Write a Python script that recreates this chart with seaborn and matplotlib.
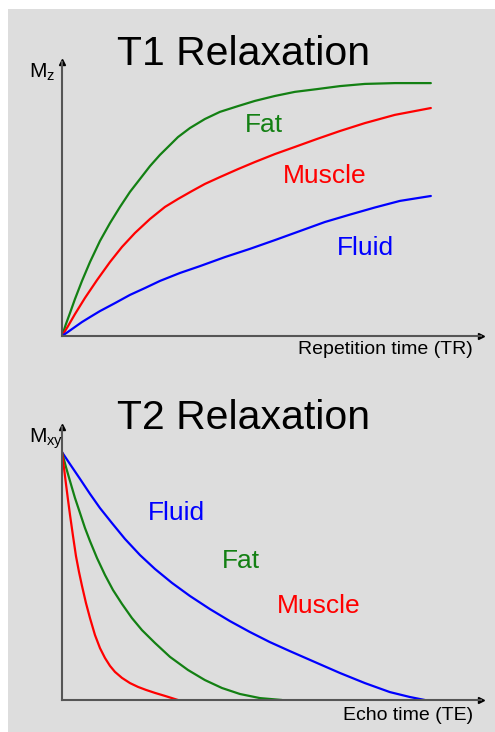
import numpy as np
import pandas as pd
import matplotlib.pyplot as plt
import seaborn as sns
from matplotlib.patches import Rectangle

# ── T1 recovery curves (TR in arbitrary units, Mz normalised) ─────────
t1_fat_tr = [0, 1.08, 2.17, 3.52, 5.42, 7.59, 10.30, 13.01, 15.72, 18.43, 21.14, 23.85, 26.56,
             29.27, 31.44, 34.69, 38.75, 42.82, 47.70, 52.30, 57.72, 63.14, 69.11, 75.34,
             82.11, 90.24, 100]
t1_fat_mz = [0, 0.044, 0.084, 0.135, 0.201, 0.270, 0.347, 0.412, 0.471, 0.526, 0.573, 0.620,
             0.661, 0.697, 0.726, 0.759, 0.792, 0.818, 0.839, 0.858, 0.876, 0.891, 0.901,
             0.912, 0.920, 0.923, 0.923]

t1_muscle_tr = [0, 1.63, 3.52, 6.23, 9.49, 13.01, 16.26, 19.78, 23.85, 27.91, 31.44, 35.23,
                38.75, 42.82, 47.70, 52.30, 57.72, 63.14, 69.11, 75.34, 82.11, 90.24, 100]
t1_muscle_mz = [0, 0.036, 0.080, 0.139, 0.204, 0.270, 0.325, 0.376, 0.427, 0.471, 0.500, 0.529,
                0.555, 0.580, 0.609, 0.635, 0.664, 0.690, 0.719, 0.748, 0.777, 0.807, 0.832]

t1_fluid_tr = [0, 1.63, 3.52, 5.42, 7.59, 10.30, 14.36, 18.43, 22.49, 26.56, 31.98, 37.40,
               44.17, 50.95, 57.72, 64.50, 71.27, 78.05, 84.82, 91.60, 100]
t1_fluid_mz = [0, 0.015, 0.033, 0.051, 0.069, 0.091, 0.120, 0.150, 0.175, 0.201, 0.230, 0.255,
               0.288, 0.318, 0.350, 0.383, 0.416, 0.443, 0.469, 0.493, 0.511]

# ── T2 decay curves (TE in arbitrary units, Mxy normalised) ───────────
t2_fluid_te = [0, 2.17, 4.88, 7.59, 10.30, 13.55, 17.07, 21.14, 25.20, 29.81, 34.69, 40.11,
               45.53, 50.95, 56.37, 61.79, 68.56, 75.34, 82.11, 88.89, 94.31, 98.37]
t2_fluid_mxy = [0.908, 0.864, 0.810, 0.755, 0.703, 0.648, 0.590, 0.531, 0.480, 0.429, 0.381,
                0.333, 0.289, 0.249, 0.212, 0.179, 0.139, 0.099, 0.062, 0.029, 0.011, 0]

t2_fat_te = [0, 1.08, 2.17, 3.52, 4.88, 6.23, 7.59, 9.49, 11.65, 13.82, 16.26, 18.97, 21.68,
             25.20, 29.27, 34.15, 38.75, 43.36, 48.24, 53.66, 59.62]
t2_fat_mxy = [0.908, 0.853, 0.802, 0.740, 0.685, 0.630, 0.582, 0.520, 0.458, 0.403, 0.352,
              0.300, 0.256, 0.209, 0.158, 0.110, 0.073, 0.044, 0.022, 0.007, 0]

t2_muscle_te = [0, 0.54, 1.08, 1.63, 2.17, 2.98, 3.79, 4.61, 5.42, 6.50, 7.59, 8.94, 10.30,
                11.65, 13.01, 14.36, 16.26, 18.43, 20.60, 22.76, 25.20, 27.91, 31.44]
t2_muscle_mxy = [0.908, 0.850, 0.791, 0.733, 0.678, 0.601, 0.527, 0.469, 0.418, 0.355, 0.300,
                 0.238, 0.190, 0.154, 0.125, 0.103, 0.081, 0.062, 0.048, 0.037, 0.026, 0.015, 0]

# label positions (time, magnitude) next to each curve
t1_labels = {"Fat": (54.7, 0.745), "Muscle": (71.1, 0.558), "Fluid": (82.4, 0.296)}
t2_labels = {"Fluid": (30.9, 0.659), "Fat": (48.4, 0.484), "Muscle": (69.5, 0.319)}

colors = {"Fat": "#138013", "Muscle": "#ff0000", "Fluid": "#0000ff"}

sns.set_style("white")
plt.rcParams['font.family'] = ['Liberation Sans', 'DejaVu Sans']
plt.rcParams['text.color'] = 'black'
plt.rcParams['mathtext.fontset'] = 'custom'
plt.rcParams['mathtext.rm'] = 'Liberation Sans'
plt.rcParams['mathtext.it'] = 'Liberation Sans'

fig = plt.figure(figsize=(4.95, 7.32), dpi=100, facecolor="white")
fig.patches.append(Rectangle((8 / 495, 0), 1, 723 / 732, transform=fig.transFigure,
                             facecolor="#dddddd", edgecolor="none", zorder=-10))

ax1 = fig.add_axes([62 / 495, 396 / 732, 419 / 495, 274 / 732])
ax2 = fig.add_axes([62 / 495, 32 / 732, 419 / 495, 273 / 732])

t1_curves = {
    "Fat": (t1_fat_tr, t1_fat_mz),
    "Muscle": (t1_muscle_tr, t1_muscle_mz),
    "Fluid": (t1_fluid_tr, t1_fluid_mz),
}
t2_curves = {
    "Fluid": (t2_fluid_te, t2_fluid_mxy),
    "Fat": (t2_fat_te, t2_fat_mxy),
    "Muscle": (t2_muscle_te, t2_muscle_mxy),
}

for ax, curves, labels in [(ax1, t1_curves, t1_labels), (ax2, t2_curves, t2_labels)]:
    for name, (x, y) in curves.items():
        df = pd.DataFrame({"t": x, "m": y})
        sns.lineplot(data=df, x="t", y="m", ax=ax, color=colors[name], lw=1.6,
                     sort=False, estimator=None)
        lx, ly = labels[name]
        ax.text(lx, ly, name, color=colors[name], fontsize=19, ha="center", va="baseline")
    ax.set_xlim(0, 113.6)
    ax.set_ylim(0, 1)
    ax.set_facecolor("none")
    ax.set_xticks([])
    ax.set_yticks([])
    ax.set_xlabel("")
    ax.set_ylabel("")
    for s in ["top", "right"]:
        ax.spines[s].set_visible(False)
    for s in ["left", "bottom"]:
        ax.spines[s].set_color("#555555")
        ax.spines[s].set_linewidth(1.5)
    # arrow heads on the axes
    ax.plot(1, 0, ">", color="black", ms=4, transform=ax.transAxes, clip_on=False)
    ax.plot(0, 1, "^", color="black", ms=4, transform=ax.transAxes, clip_on=False)

ax1.text(0.434, 0.989, "T1 Relaxation", transform=ax1.transAxes, fontsize=29.5,
         ha="center", va="baseline")
ax2.text(0.434, 0.993, "T2 Relaxation", transform=ax2.transAxes, fontsize=29.5,
         ha="center", va="baseline")

ax1.text(0.981, -0.066, "Repetition time (TR)", transform=ax1.transAxes, fontsize=14,
         ha="right", va="baseline")
ax2.text(0.981, -0.073, "Echo time (TE)", transform=ax2.transAxes, fontsize=14,
         ha="right", va="baseline")

ax1.text(-0.079, 0.942, r"$\mathregular{M_z}$", transform=ax1.transAxes, fontsize=15,
         ha="left", va="baseline")
ax2.text(-0.079, 0.941, r"$\mathregular{M_{xy}}$", transform=ax2.transAxes, fontsize=15,
         ha="left", va="baseline")

fig.savefig("out.png", dpi=100, facecolor=fig.get_facecolor())
